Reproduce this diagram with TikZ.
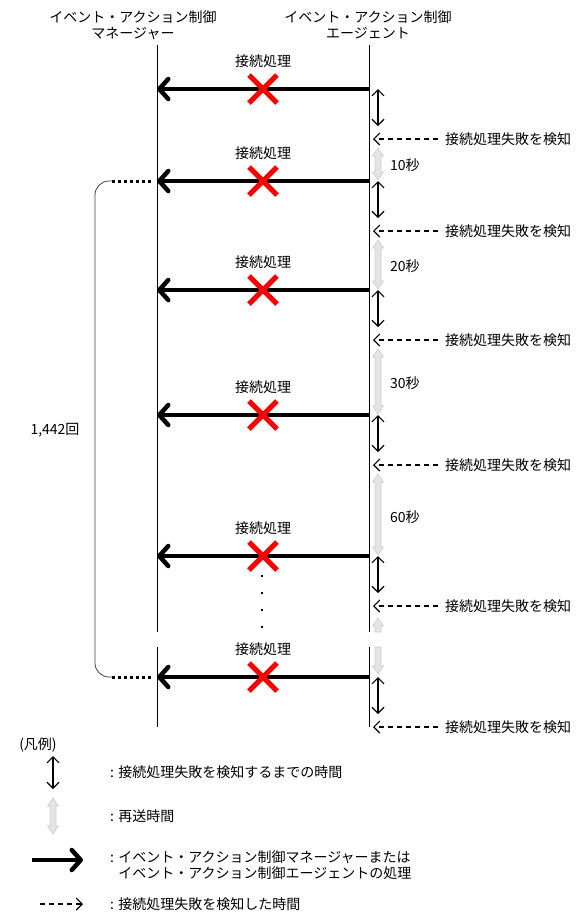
\documentclass[tikz,border=0pt]{standalone}
\usepackage{fontspec}
\setmainfont{Noto Sans CJK JP}
\usetikzlibrary{positioning, arrows.meta}
\definecolor{crossred}{RGB}{255,0,0}
\definecolor{resendfill}{RGB}{228,228,228}
\definecolor{resenddraw}{RGB}{206,206,206}
\tikzstyle{txt} = [
font=\fontsize{14}{16}\selectfont,
inner sep=0pt
]
\tikzstyle{process} = [
line width=4.5pt,
-{Straight Barb[length=9pt,width=20pt,round]}
]
\tikzstyle{waiting} = [
line width=1.1pt,
{Straight Barb[length=6pt,width=12pt]}-{Straight Barb[length=6pt,width=12pt]}
]
\tikzstyle{detect} = [
line width=1.1pt,
dash pattern=on 5pt off 4pt,
-{Straight Barb[length=6pt,width=12pt]}
]
\tikzstyle{lifeline} = [line width=0.9pt]
\tikzset{
cross/.pic={
\draw[crossred, line width=5pt] (-14,-14) -- (14,14) (-14,14) -- (14,-14);
}
}
% x, top, bottom
\newcommand{\resend}[3]{%
\filldraw[fill=resendfill, draw=resenddraw, line width=0.6pt]
(#1,#2) -- (#1+5.5,#2+8) -- (#1+3,#2+8) -- (#1+3,#3-8) -- (#1+5.5,#3-8)
-- (#1,#3) -- (#1-5.5,#3-8) -- (#1-3,#3-8) -- (#1-3,#2+8) -- (#1-5.5,#2+8) -- cycle;
}

\begin{document}
\begin{tikzpicture}[x=1pt, y=-1pt]
        \useasboundingbox (0,0) rectangle (583,922);
        
        \node[txt, align=center] (mgrhead) at (133,25)
        {イベント・アクション制御\\マネージャー};
        
        \node[txt, align=center] (agthead) at (368,25)
        {イベント・アクション制御\\エージェント};
        
        % lifelines
        \coordinate (mgrtop) at (157,45);
        \coordinate (mgrcut) at (157,632);
        \coordinate (mgrres) at (157,647);
        \coordinate (mgrend) at (157,727);
        \coordinate (agttop) at (369,45);
        \coordinate (agtcut) at (369,632);
        \coordinate (agtres) at (369,647);
        \coordinate (agtend) at (369,727);
        
        \draw[lifeline] (mgrtop) -- (mgrcut) (mgrres) -- (mgrend);
        
        \draw[lifeline] (agttop) -- (agtcut) (agtres) -- (agtend);
        
        % tries
        \foreach \y [count=\i] in {89,181,290,415,556,677} {
          \coordinate (send\i) at (369,\y);
          \coordinate (recv\i) at (157,\y);
          \draw[process] (send\i) -- (recv\i);
          \pic at (263,\y) {cross};
          \node[txt] (try\i) at (263,\y-28) {接続処理};
          \coordinate (wait\i) at (378,\y);
          \coordinate (fail\i) at (378,\y+37);
          \draw[waiting] (wait\i) -- (fail\i);
          \coordinate (hit\i) at (373,\y+50);
          \node[txt, anchor=west] (det\i) at (445,\y+50) {接続処理失敗を検知};
          \draw[detect] ([xshift=-7pt]det\i.west) -- (hit\i);
        }
        
        % resend times
        \resend{378}{148}{180}
        \resend{378}{240}{289}
        \resend{378}{349}{414}
        \resend{378}{474}{555}
        
        \node[txt, anchor=west] (gap1) at (390,165) {10秒};
        \node[txt, anchor=west] (gap2) at (390,266) {20秒};
        \node[txt, anchor=west] (gap3) at (390,383) {30秒};
        \node[txt, anchor=west] (gap4) at (390,517) {60秒};
        
        \filldraw[fill=resendfill, draw=resenddraw, line width=0.6pt]
        (378,618) -- (383.5,626) -- (381,626) -- (381,632) -- (375,632)
        -- (375,626) -- (372.5,626) -- cycle;
        
        \filldraw[fill=resendfill, draw=resenddraw, line width=0.6pt]
        (375,647) -- (381,647) -- (381,666) -- (383.5,666) -- (378,674)
        -- (372.5,666) -- (375,666) -- cycle;
        
        \foreach \y in {575,592,609,626}
          \fill (261,\y) rectangle (263.2,\y+2.2);
        
        % repeat count
        \coordinate (bracetop) at (112,181);
        \coordinate (bracebot) at (112,677);
        \draw[line width=0.8pt, black!75, rounded corners=14pt]
        (bracetop) -| (95,430) |- (bracebot);
        
        \draw[line width=3pt, dash pattern=on 3pt off 3pt] (bracetop) -- (153,181);
        \draw[line width=3pt, dash pattern=on 3pt off 3pt] (bracebot) -- (153,677);
        
        \node[txt] (count) at (55,430) {1,442回};
        
        % legend
        \node[txt] (legend) at (38,745) {(凡例)};
        
        \coordinate (lgwaitA) at (53,756);
        \coordinate (lgwaitB) at (53,789);
        \draw[waiting] (lgwaitA) -- (lgwaitB);
        \node[txt, anchor=west] (lgwaittxt) at (110,772)
        {: 接続処理失敗を検知するまでの時間};
        
        \resend{53}{798}{834}
        \node[txt, anchor=west] (lgresendtxt) at (110,816) {: 再送時間};
        
        \coordinate (lgprocA) at (32,860);
        \coordinate (lgprocB) at (83,860);
        \draw[process] (lgprocA) -- (lgprocB);
        \node[txt, anchor=west, align=left] (lgproctxt) at (110,865)
        {: イベント・アクション制御マネージャーまたは\\\phantom{: }イベント・アクション制御エージェントの処理};
        
        \coordinate (lgdetA) at (40,904);
        \coordinate (lgdetB) at (83,904);
        \draw[detect] (lgdetA) -- (lgdetB);
        \node[txt, anchor=west] (lgdettxt) at (110,904)
        {: 接続処理失敗を検知した時間};
        
\end{tikzpicture}
\end{document}
